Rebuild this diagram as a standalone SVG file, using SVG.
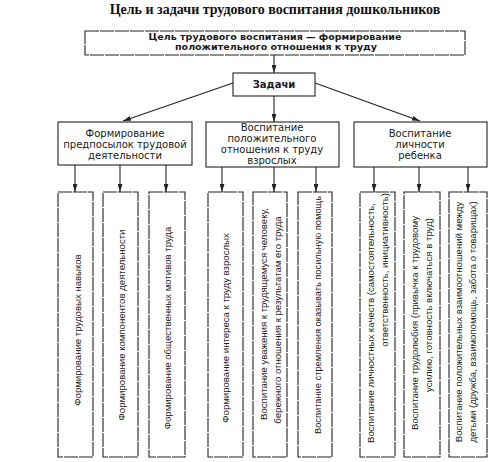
<svg xmlns="http://www.w3.org/2000/svg" width="497" height="462" viewBox="0 0 497 462">
<style>
.box{fill:#fff;stroke:#222;stroke-width:1.1}
.vbox{fill:#fff;stroke:#222;stroke-width:1.1;stroke-dasharray:14 1}
.ttl{font-family:"Liberation Serif","Times New Roman",serif;font-weight:bold;font-size:14px;text-anchor:middle;fill:#111}
.tb{font-family:"DejaVu Sans","Liberation Sans",sans-serif;font-weight:bold;font-size:9.5px;text-anchor:middle;fill:#1a1a1a}
.tm{font-family:"DejaVu Sans","Liberation Sans",sans-serif;font-size:10px;text-anchor:middle;fill:#1a1a1a}
.tv{font-family:"Liberation Sans",Arial,sans-serif;font-size:9.6px;text-anchor:middle;fill:#1a1a1a}
.c{stroke:#222;stroke-width:1.1;fill:none;marker-end:url(#ah)}
</style>
<defs>
<marker id="ah" viewBox="0 0 10 6" refX="10" refY="3" markerWidth="8" markerHeight="5" markerUnits="userSpaceOnUse" orient="auto">
<path d="M0,0 L10,3 L0,6 Z" fill="#222"/>
</marker>
</defs>
<rect width="497" height="462" fill="#fff"/>
<text id="title" class="ttl" x="275" y="14">Цель и задачи трудового воспитания дошкольников</text>

<g id="connectors">
<path class="c" d="M274,55 L274,73"/>
<path class="c" d="M233,83 L123,121"/>
<path class="c" d="M274,96 L274,122"/>
<path class="c" d="M315,83 L420,121"/>
<path class="c" d="M75,165 L75,192"/>
<path class="c" d="M120,165 L120,192"/>
<path class="c" d="M166,165 L166,192"/>
<path class="c" d="M222,167 L222,192"/>
<path class="c" d="M274,167 L274,192"/>
<path class="c" d="M316,167 L316,192"/>
<path class="c" d="M374,167 L374,192"/>
<path class="c" d="M419,167 L419,192"/>
<path class="c" d="M468,167 L468,192"/>
</g>

<g id="goal">
<rect class="vbox" x="85" y="31" width="380" height="24"/>
<text class="tb" x="275" y="40">Цель трудового воспитания — формирование</text>
<text class="tb" x="276" y="50">положительного отношения к труду</text>
</g>

<g id="tasks">
<rect class="box" x="233" y="73" width="82" height="23"/>
<text class="tb" x="274" y="88" style="font-size:10px">Задачи</text>
</g>

<g id="pre">
<rect class="box" x="58" y="122" width="134" height="43"/>
<text class="tm" x="125" y="137">Формирование</text>
<text class="tm" x="125" y="148">предпосылок трудовой</text>
<text class="tm" x="125" y="159">деятельности</text>
</g>

<g id="attitude">
<rect class="box" x="206" y="122" width="133" height="45"/>
<text class="tm" x="272" y="131">Воспитание</text>
<text class="tm" x="272" y="142">положительного</text>
<text class="tm" x="272" y="153">отношения к труду</text>
<text class="tm" x="272" y="164">взрослых</text>
</g>

<g id="personality">
<rect class="box" x="354" y="122" width="133" height="45"/>
<text class="tm" x="420" y="137">Воспитание</text>
<text class="tm" x="420" y="148">личности</text>
<text class="tm" x="420" y="159">ребенка</text>
</g>

<g id="v1">
<rect class="vbox" x="58" y="192" width="35" height="265"/>
<text class="tv" transform="translate(77,330) rotate(-90)" y="3.5">Формирование трудовых навыков</text>
</g>
<g id="v2">
<rect class="vbox" x="103" y="192" width="35" height="265"/>
<text class="tv" transform="translate(121,325) rotate(-90)" y="3.5">Формирование компонентов деятельности</text>
</g>
<g id="v3">
<rect class="vbox" x="149" y="192" width="36" height="265"/>
<text class="tv" transform="translate(167,328) rotate(-90)" y="3.5">Формирование общественных мотивов труда</text>
</g>
<g id="v4">
<rect class="vbox" x="208" y="192" width="35" height="265"/>
<text class="tv" transform="translate(225,328) rotate(-90)" y="3.5">Формирование интереса к труду взрослых</text>
</g>
<g id="v5">
<rect class="vbox" x="253" y="192" width="34" height="265"/>
<text class="tv" transform="translate(263,314) rotate(-90)" y="3.5">Воспитание уважения к трудящемуся человеку,</text>
<text class="tv" transform="translate(277,320) rotate(-90)" y="3.5">бережного отношения к результатам его труда</text>
</g>
<g id="v6">
<rect class="vbox" x="298" y="192" width="34" height="265"/>
<text class="tv" transform="translate(317,315) rotate(-90)" y="3.5" textLength="238" lengthAdjust="spacingAndGlyphs">Воспитание стремления оказывать посильную помощь</text>
</g>
<g id="v7">
<rect class="vbox" x="360" y="192" width="35" height="265"/>
<text class="tv" transform="translate(370,323) rotate(-90)" y="3.5">Воспитание личностных качеств (самостоятельность,</text>
<text class="tv" transform="translate(384,270) rotate(-90)" y="3.5">ответственность, инициативность)</text>
</g>
<g id="v8">
<rect class="vbox" x="404" y="192" width="36" height="265"/>
<text class="tv" transform="translate(414,323) rotate(-90)" y="3.5">Воспитание трудолюбия (привычка к трудовому</text>
<text class="tv" transform="translate(428,305) rotate(-90)" y="3.5">усилию, готовность включаться в труд)</text>
</g>
<g id="v9">
<rect class="vbox" x="449" y="192" width="38" height="265"/>
<text class="tv" transform="translate(458,322) rotate(-90)" y="3.5">Воспитание положительных взаимоотношений между</text>
<text class="tv" transform="translate(472,322) rotate(-90)" y="3.5">детьми (дружба, взаимопомощь, забота о товарищах)</text>
</g>
</svg>
